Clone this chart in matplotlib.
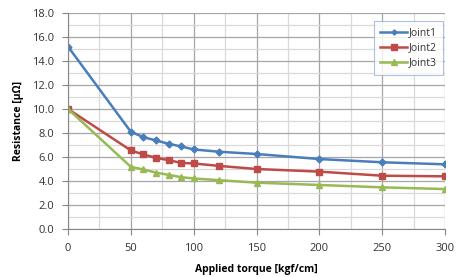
import matplotlib
matplotlib.use("Agg")
import matplotlib.pyplot as plt
from matplotlib.ticker import MultipleLocator

torque = [0, 50, 60, 70, 80, 90, 100, 120, 150, 200, 250, 300]
joint1 = [15.2, 8.1, 7.65, 7.38, 7.1, 6.88, 6.63, 6.44, 6.25, 5.83, 5.56, 5.39]
joint2 = [10.0, 6.55, 6.21, 5.93, 5.74, 5.51, 5.46, 5.26, 5.0, 4.78, 4.44, 4.39]
joint3 = [10.0, 5.18, 4.96, 4.70, 4.51, 4.32, 4.21, 4.07, 3.86, 3.67, 3.47, 3.33]
labels = ["Joint1", "Joint2", "Joint3"]

plt.rcParams['font.family'] = ['Open Sans', 'DejaVu Sans']
fig = plt.figure(figsize=(4.58, 2.77), dpi=100)
ax = fig.add_axes([68/458, 1-229/277, (445-68)/458, (229-13)/277])

ax.plot(torque, joint1, color='#4A7EBB', marker='D', markersize=3.5, lw=1.8, label=labels[0])
ax.plot(torque, joint2, color='#BE4B48', marker='s', markersize=5, lw=1.8, label=labels[1])
ax.plot(torque, joint3, color='#98B954', marker='^', markersize=5, lw=1.8, label=labels[2])

ax.set_xlim(0, 300)
ax.set_ylim(0, 18)
ax.xaxis.set_major_locator(MultipleLocator(50))
ax.xaxis.set_minor_locator(MultipleLocator(25))
ax.yaxis.set_major_locator(MultipleLocator(2))
ax.yaxis.set_minor_locator(MultipleLocator(1))
ax.set_yticklabels([f"{v:.1f}" for v in ax.get_yticks()])
ax.grid(which='major', color='#A6A6A6', lw=0.9)
ax.grid(which='minor', color='#D9D9D9', lw=0.9)
ax.set_axisbelow(True)
for s in ['top', 'right']:
    ax.spines[s].set_visible(False)
ax.spines['left'].set_color('#868686')
ax.spines['bottom'].set_color('#868686')
ax.tick_params(which='major', length=4, color='#868686', labelsize=8, labelcolor='#333333', pad=6)
ax.tick_params(which='minor', length=0)

ax.set_xlabel('Applied torque [kgf/cm]', fontsize=7.5, fontweight='bold', labelpad=7)
ax.set_ylabel('Resistance [μΩ]', fontsize=7.5, fontweight='bold', labelpad=6)

leg = ax.legend(loc='upper right', bbox_to_anchor=(375/377, (229-21)/216), borderaxespad=0,
                fontsize=7.5, frameon=True, fancybox=False, handlelength=2.6,
                handletextpad=0.15, borderpad=0.6, labelspacing=0.4, markerscale=0.75)
leg.get_frame().set_edgecolor('#95B3D7')
leg.get_frame().set_linewidth(0.8)
for t in leg.get_texts():
    t.set_color('#333333')

fig.savefig('out.png', dpi=100)
